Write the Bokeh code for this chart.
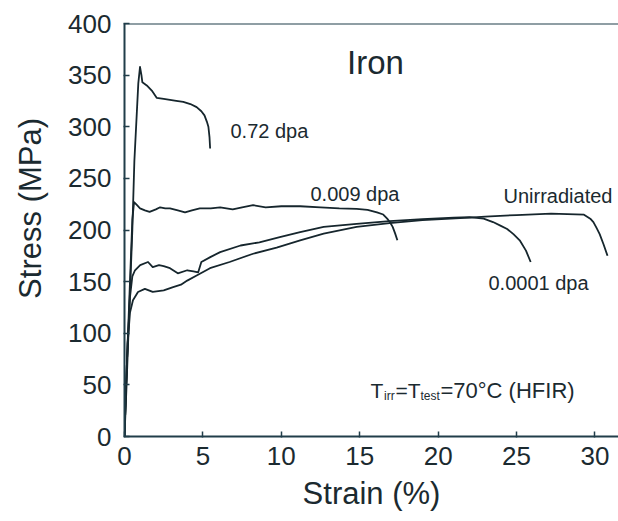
import math
from bokeh.plotting import figure
from bokeh.models import Range1d, Span, FixedTicker
from bokeh.core.properties import value
from bokeh.embed import file_html
from bokeh.resources import INLINE

# ---------------- data ----------------
x_ticks = [0, 5, 10, 15, 20, 25, 30]
y_ticks = [0, 50, 100, 150, 200, 250, 300, 350, 400]

strain_072 = [0, 0.12, 0.3, 0.5, 0.63, 0.88, 0.99, 1.08, 1.14, 1.42, 1.74, 2.05,
              2.5, 2.9, 3.3, 3.75, 4.2, 4.6, 4.9, 5.1, 5.25, 5.35, 5.42, 5.46]
stress_072 = [0, 45, 120, 200, 267, 342, 358, 350, 343, 340, 335, 328,
              327, 326, 325, 324, 322, 319, 315, 311, 305, 300, 290, 279]

strain_0009 = [0, 0.08, 0.2, 0.35, 0.5, 0.61, 0.8, 0.99, 1.3, 1.6, 2.0, 2.27,
               2.6, 2.9, 3.4, 3.86, 4.3, 4.8, 5.5, 6.1, 6.9, 7.5, 8.2, 9.0,
               10.0, 11.2, 12.5, 13.7, 14.8, 15.5, 16.1, 16.5, 16.75, 16.95,
               17.1, 17.25, 17.4]
stress_0009 = [0, 40, 90, 150, 210, 227, 224, 221, 219, 217.5, 220, 222,
               221, 221, 219, 217, 219, 221, 221, 222, 220, 222, 224, 222,
               223, 223, 222, 221, 220.5, 219.5, 217, 215, 211, 207,
               203, 197, 190]

strain_00001 = [0, 0.08, 0.2, 0.35, 0.5, 0.67, 1.0, 1.5, 1.8, 2.2, 2.5, 2.9,
                3.4, 4.0, 4.4, 4.7, 4.9, 5.5, 6.1, 7.4, 8.6, 9.9, 11.2, 12.7,
                14.8, 16.9, 19.0, 21.0, 22.0, 22.9, 23.5, 24.0, 24.4, 24.8,
                25.2, 25.6, 25.9]
stress_00001 = [0, 40, 90, 135, 155, 161, 166, 169, 164, 166, 165, 163,
                158, 161, 160, 159, 169, 174, 178.6, 185, 188, 193, 198, 203,
                206, 208.6, 210.5, 212, 212.5, 211, 207.7, 204, 201, 196,
                190, 180, 169]

strain_unirr = [0, 0.08, 0.2, 0.35, 0.54, 0.86, 1.3, 1.8, 2.5, 3.1, 3.6, 4.0,
                4.6, 5.45, 6.7, 8.2, 9.7, 11.2, 12.7, 14.8, 16.9, 19.0, 22.0,
                23.0, 25.0, 27.2, 29.3, 29.7, 29.9, 30.1, 30.3, 30.55, 30.8]
stress_unirr = [0, 40, 90, 120, 132, 140, 143, 140, 141.5, 144.7, 147, 151,
                156, 163, 169, 177, 183, 190, 196.5, 203, 206.7, 209.5, 212,
                213, 214.5, 215.8, 214.8, 211, 207.7, 202, 196, 186, 175]

series_labels = ["0.72 dpa", "0.009 dpa", "Unirradiated", "0.0001 dpa"]

# ---------------- layout ----------------
W, H = 618, 521
ML, MR, MT, MB = 124, 0, 23, 85
X0, X1 = 0, 31.5
Y0, Y1 = 0, 400
FONT = "Liberation Sans"
LINE = "#16262d"
AXIS = "#213e4a"
TXT = "#1b2a30"

frame_w = W - ML - MR
frame_h = H - MT - MB
ppx = frame_w / (X1 - X0)
ppy = frame_h / (Y1 - Y0)


def px2x(px):
    return X0 + (px - ML) / ppx


def py2y(py):
    return Y0 + (H - MB - py) / ppy


p = figure(width=W, height=H, output_backend="svg", toolbar_location=None,
           x_range=Range1d(X0, X1), y_range=Range1d(Y0, Y1),
           min_border_left=ML, min_border_right=MR,
           min_border_top=MT, min_border_bottom=MB)
p.outline_line_color = None
p.grid.visible = False
p.background_fill_color = "white"
p.border_fill_color = "white"

for ax in (p.xaxis[0], p.yaxis[0]):
    ax.axis_line_color = AXIS
    ax.axis_line_width = 2
    ax.major_tick_line_color = AXIS
    ax.major_tick_line_width = 1.5
    ax.major_tick_in = 5
    ax.major_tick_out = 1
    ax.minor_tick_line_color = None
    ax.major_label_text_font = FONT
    ax.major_label_text_font_size = "26px"
    ax.major_label_text_color = TXT
    ax.axis_label_text_font = FONT
    ax.axis_label_text_font_size = "31px"
    ax.axis_label_text_font_style = "normal"
    ax.axis_label_text_color = TXT

p.xaxis.ticker = FixedTicker(ticks=x_ticks)
p.yaxis.ticker = FixedTicker(ticks=y_ticks)
p.xaxis.major_label_standoff = 9
p.yaxis.major_label_standoff = 12
p.xaxis.axis_label = "Strain (%)"
p.xaxis.axis_label_standoff = 8
# leading no-break spaces move the rotated title up, as in the reference
p.yaxis.axis_label = "\u00a0" * 5 + "Stress (MPa)"
p.yaxis.axis_label_standoff = 17

# top border of the frame
p.add_layout(Span(location=Y1, dimension="width", line_color=AXIS, line_width=2))

# curves
for xs, ys in [(strain_072, stress_072), (strain_0009, stress_0009),
               (strain_00001, stress_00001), (strain_unirr, stress_unirr)]:
    p.line(xs, ys, line_color=LINE, line_width=1.8, line_join="round")

# title inside the plot
p.text(x=[px2x(375)], y=[py2y(62)], text=["Iron"], text_font=value(FONT),
       text_font_size="33px", text_color=TXT, text_align="center",
       text_baseline="middle")

# curve labels
lab_px = [(230, 130), (310, 193), (503, 195), (488, 282)]
p.text(x=[px2x(a) for a, b in lab_px], y=[py2y(b) for a, b in lab_px],
       text=series_labels, text_font=value(FONT), text_font_size="20px",
       text_color=TXT, text_align="left", text_baseline="middle")

# T_irr = T_test = 70°C (HFIR) annotation built from pieces
base_py = 390
pieces = [("T", 370, 21, 0), ("irr", 383.5, 12, 5), ("=T", 395, 21, 0),
          ("test", 420, 12, 5), ("=70°C (HFIR)", 440, 22, 0)]
for txt, px, fs, dy in pieces:
    p.text(x=[px2x(px)], y=[py2y(base_py + dy)], text=[txt], text_font=value(FONT),
           text_font_size=f"{fs}px", text_color=TXT, text_align="left",
           text_baseline="alphabetic")

open("out.html", "w").write(file_html(p, INLINE))
